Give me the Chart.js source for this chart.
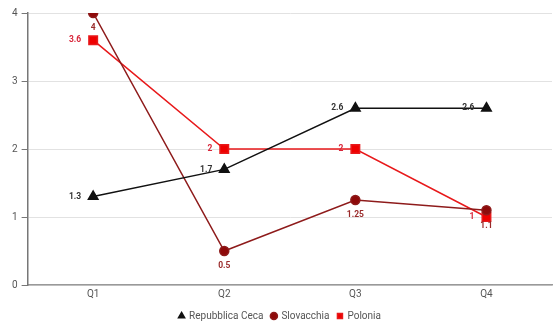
<!DOCTYPE html>
<html>
<head>
<meta charset="utf-8">
<script src="https://cdn.jsdelivr.net/npm/chart.js@4"></script>
<style>
  html, body { margin: 0; padding: 0; background: #fff; }
  #wrap { width: 560px; height: 331px; }
</style>
</head>
<body>
<div id="wrap"><canvas id="grafico"></canvas></div>
<script>
const trimestri = ["Q1", "Q2", "Q3", "Q4"];
const repubblicaCeca = [1.3, 1.7, 2.6, 2.6];
const slovacchia = [4, 0.5, 1.25, 1.1];
const polonia = [3.6, 2, 2, 1];
const yTicks = [0, 1, 2, 3, 4];

// etichette dei valori vicino ai punti
const etichette = {
  id: "etichette",
  afterDatasetsDraw(chart) {
    const ctx = chart.ctx;
    ctx.save();
    ctx.font = "bold 8.5px Roboto, sans-serif";
    chart.data.datasets.forEach((ds, i) => {
      const meta = chart.getDatasetMeta(i);
      if (meta.hidden) return;
      meta.data.forEach((pt, j) => {
        const v = ds.data[j];
        ctx.fillStyle = ds.labelColor;
        if (ds.labelPos === "below") {
          ctx.textAlign = "center";
          ctx.textBaseline = "top";
          ctx.fillText(v, pt.x, pt.y + 11);
        } else {
          ctx.textAlign = "right";
          ctx.textBaseline = "middle";
          ctx.fillText(v, pt.x - 12, pt.y);
        }
      });
    });
    ctx.restore();
  },
};

new Chart(document.getElementById("grafico"), {
  type: "line",
  data: {
    labels: trimestri,
    datasets: [
      {
        label: "Repubblica Ceca",
        data: repubblicaCeca,
        borderColor: "#111",
        backgroundColor: "#111",
        borderWidth: 1.5,
        pointStyle: "triangle",
        pointRadius: 5.5,
        pointHoverRadius: 5.5,
        labelColor: "#333",
        labelPos: "left",
      },
      {
        label: "Slovacchia",
        data: slovacchia,
        borderColor: "#8e1b1b",
        backgroundColor: "#8e0a0a",
        borderWidth: 1.5,
        pointStyle: "circle",
        pointRadius: 4.5,
        pointHoverRadius: 4.5,
        labelColor: "#9a2a2a",
        labelPos: "below",
      },
      {
        label: "Polonia",
        data: polonia,
        borderColor: "#e8191b",
        backgroundColor: "#ee0000",
        borderWidth: 1.5,
        pointStyle: "rect",
        pointRadius: 6,
        pointHoverRadius: 6,
        labelColor: "#d8263a",
        labelPos: "left",
      },
    ],
  },
  options: {
    responsive: true,
    maintainAspectRatio: false,
    animation: false,
    layout: { padding: { top: 13, right: 8, left: 8, bottom: 0 } },
    plugins: {
      legend: {
        position: "bottom",
        labels: {
          usePointStyle: true,
          boxWidth: 5,
          boxHeight: 5,
          padding: 8,
          color: "#555",
          font: { family: "Roboto, sans-serif", size: 10 },
        },
      },
      tooltip: { enabled: false },
    },
    scales: {
      x: {
        offset: true,
        grid: { display: false, drawTicks: false },
        border: { color: "#999", width: 1.5 },
        ticks: { color: "#555", padding: 3, font: { family: "Roboto, sans-serif", size: 10 } },
      },
      y: {
        min: 0,
        max: 4,
        afterBuildTicks(axis) {
          axis.ticks = yTicks.map((v) => ({ value: v }));
        },
        grid: { color: "#e2e2e2", tickColor: "#777", tickLength: 6 },
        border: { color: "#777", width: 1.5 },
        ticks: { color: "#555", padding: 4, font: { family: "Roboto, sans-serif", size: 10 } },
      },
    },
  },
  plugins: [etichette],
});
</script>
</body>
</html>
